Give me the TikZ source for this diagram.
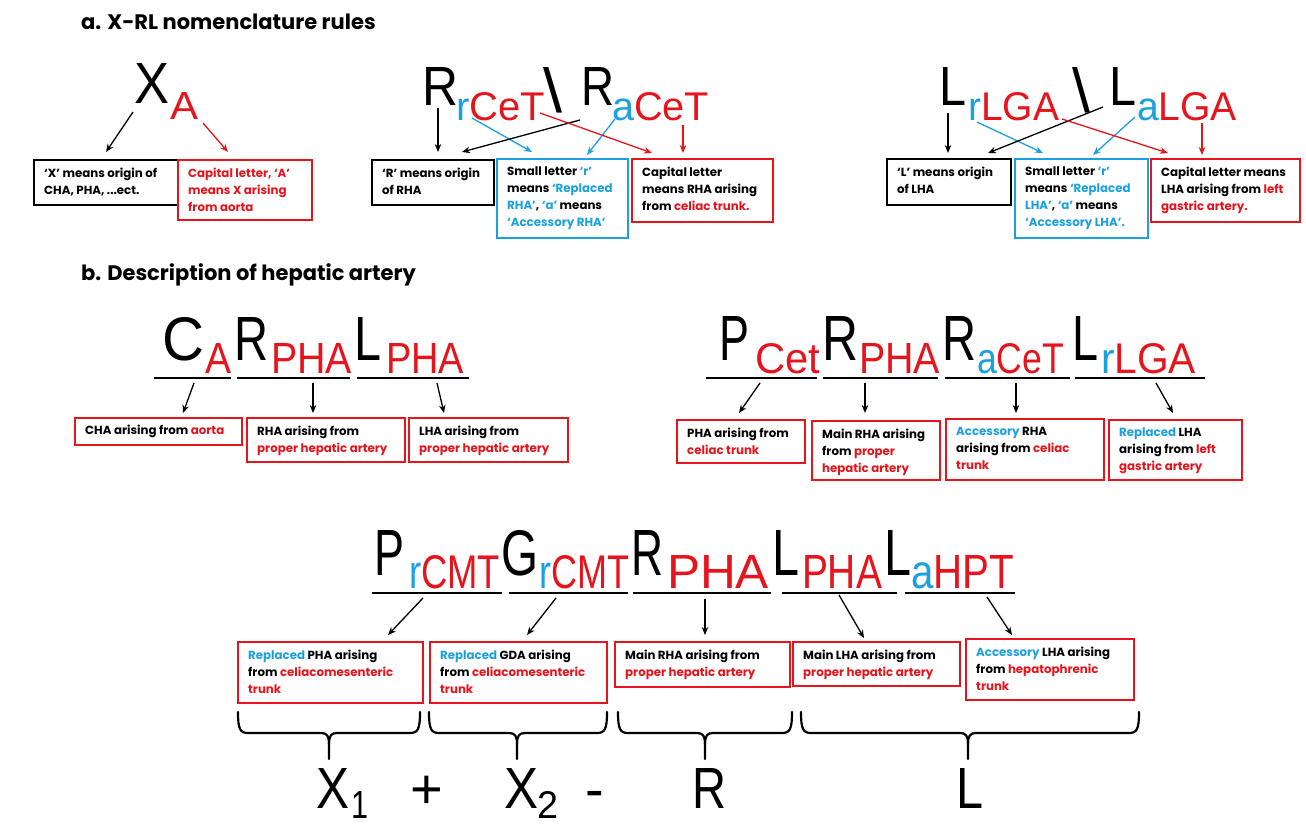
\documentclass[tikz,border=0pt]{standalone}
\usepackage{fontspec}
\usepackage{graphicx}
\setmainfont{Poppins}
\newfontfamily\arialf{Liberation Sans}
\usetikzlibrary{arrows.meta}
\definecolor{myred}{RGB}{230,20,28}
\definecolor{myblue}{RGB}{27,160,225}
\newcommand{\rd}[1]{\textcolor{myred}{#1}}
\newcommand{\bl}[1]{\textcolor{myblue}{#1}}
\newcommand{\gb}[3]{\resizebox{#1pt}{#2pt}{\arialf #3}}
\newcommand{\mybrace}[3]{%
  \draw[brc] (#1,712) .. controls (#1,729) and ({#1+2},733) .. ({#1+10},733) -- ({#2-8},733) .. controls ({#2-2},733) and (#2,736) .. (#2,744) -- (#2,759);
  \draw[brc] (#2,744) .. controls (#2,736) and ({#2+2},733) .. ({#2+8},733) -- ({#3-10},733) .. controls ({#3-2},733) and (#3,729) .. (#3,712);}
\begin{document}
\begin{tikzpicture}[x=1pt,y=-1pt,
  gl/.style={anchor=base west, inner sep=0pt, outer sep=0pt},
  bx/.style={draw=#1, line width=1.8pt, anchor=north west, inner sep=0pt, outer sep=0pt},
  tx/.style={anchor=north west, inner sep=0pt, align=left, font=\bfseries\fontsize{11.8}{17}\selectfont},
  arr/.style={-{Stealth[length=8pt,width=6.5pt]}, line width=1.3pt, color=#1},
  ul/.style={line width=1.5pt},
  brc/.style={line width=2.2pt, line cap=round, line join=round},
  ttl/.style={anchor=base west, inner sep=0pt, font=\bfseries\fontsize{21}{25}\selectfont}]
\useasboundingbox (0,0) rectangle (1306,827);
\fill[white] (0,0) rectangle (1306,827);

% ---------- titles ----------
\node[ttl] (ta) at (81,29) {a. X-RL nomenclature rules};
\node[ttl] (tb) at (81,280) {b. Description of hepatic artery};

% ---------- section a letters ----------
\node[gl] (nX) at (134,103) {\gb{35}{40}{X}};
\node[gl] (nA) at (170,119) {\gb{28}{27}{\color{myred}A}};
\node[gl] (nR1) at (422,105) {\gb{36}{38}{R}};
\node[gl] (nrCeT) at (456,120) {\gb{89}{28}{\color{myblue}r\color{myred}CeT}};
\node[gl] (nBS1) at (543,112) {\gb{19}{45}{\textbackslash}};
\node[gl] (nR2) at (581,105) {\gb{33}{38}{R}};
\node[gl] (naCeT) at (612,120) {\gb{97}{28}{\color{myblue}a\color{myred}CeT}};
\node[gl] (nL1) at (939,105) {\gb{27}{38}{L}};
\node[gl] (nrLGA) at (968,120) {\gb{91}{28}{\color{myblue}r\color{myred}LGA}};
\node[gl] (nBS2) at (1072,112) {\gb{18}{45}{\textbackslash}};
\node[gl] (nL2) at (1109,105) {\gb{27}{38}{L}};
\node[gl] (naLGA) at (1137,120) {\gb{100}{28}{\color{myblue}a\color{myred}LGA}};

% ---------- section a boxes ----------
\node[bx=black, minimum width=144pt, minimum height=45pt] (bXa) at (34,160) {};
\node[bx=myred, minimum width=134pt, minimum height=60pt] (bAa) at (178,160) {};
\node[bx=black, minimum width=122pt, minimum height=45pt] (bRa) at (372,160) {};
\node[bx=myblue, minimum width=131pt, minimum height=79pt] (bRb) at (497,159) {};
\node[bx=myred, minimum width=141pt, minimum height=63pt] (bRc) at (632,159) {};
\node[bx=black, minimum width=124pt, minimum height=46pt] (bLa) at (887,159) {};
\node[bx=myblue, minimum width=133pt, minimum height=79pt] (bLb) at (1015,159) {};
\node[bx=myred, minimum width=149pt, minimum height=63pt] (bLc) at (1151,159) {};

\node[tx] at ([shift={(10,8)}]bXa.north west) {‘X’ means origin of\\CHA, PHA, ...ect.};
\node[tx, text=myred] at ([shift={(10,8)}]bAa.north west) {Capital letter, ‘A’\\means X arising\\from aorta};
\node[tx] at ([shift={(10,8)}]bRa.north west) {‘R’ means origin\\of RHA};
\node[tx] at ([shift={(10,8)}]bRb.north west) {Small letter \bl{‘r’}\\means \bl{‘Replaced}\\\bl{RHA’}, \bl{‘a’} means\\\bl{‘Accessory RHA’}};
\node[tx] at ([shift={(10,8)}]bRc.north west) {Capital letter\\means RHA arising\\from \rd{celiac trunk.}};
\node[tx] at ([shift={(10,8)}]bLa.north west) {‘L’ means origin\\of LHA};
\node[tx] at ([shift={(10,8)}]bLb.north west) {Small letter \bl{‘r’}\\means \bl{‘Replaced}\\\bl{LHA’}, \bl{‘a’} means\\\bl{‘Accessory LHA’.}};
\node[tx] at ([shift={(10,8)}]bLc.north west) {Capital letter means\\LHA arising from \rd{left}\\\rd{gastric artery.}};

% ---------- section a arrows ----------
\coordinate (s1) at (133,112);
\coordinate (s2) at (203,123);
\coordinate (s3) at (438,108);
\coordinate (s4) at (472,118);
\coordinate (s5) at (580,120);
\coordinate (s6) at (615,119);
\coordinate (s7) at (540,113);
\coordinate (s8) at (683,125);
\coordinate (s9) at (948,113);
\coordinate (s10) at (977,122);
\coordinate (s11) at (1103,107);
\coordinate (s12) at (1135,117);
\coordinate (s13) at (1062,119);
\coordinate (s14) at (1202,123);
\draw[arr=black] (s1) -- ([shift={(72,-8)}]bXa.north west);
\draw[arr=myred] (s2) -- ([shift={(50,-8)}]bAa.north west);
\draw[arr=black] (s3) -- ([shift={(66,-8)}]bRa.north west);
\draw[arr=myblue] (s4) -- ([shift={(35,-7)}]bRb.north west);
\draw[arr=black] (s5) -- ([shift={(90,-8)}]bRa.north west);
\draw[arr=myblue] (s6) -- ([shift={(90,-4)}]bRb.north west);
\draw[arr=myred] (s7) -- ([shift={(20,-6)}]bRc.north west);
\draw[arr=myred] (s8) -- ([shift={(51,-6)}]bRc.north west);
\draw[arr=black] (s9) -- ([shift={(61,-6)}]bLa.north west);
\draw[arr=myblue] (s10) -- ([shift={(28,-6)}]bLb.north west);
\draw[arr=black] (s11) -- ([shift={(101,-6)}]bLa.north west);
\draw[arr=myblue] (s12) -- ([shift={(78,-4)}]bLb.north west);
\draw[arr=myred] (s13) -- ([shift={(17,-6)}]bLc.north west);
\draw[arr=myred] (s14) -- ([shift={(51,-4)}]bLc.north west);

% ---------- section b letters ----------
\node[gl] (nC) at (162,360) {\gb{42}{43}{C}};
\node[gl] (nCA) at (205,373) {\gb{26}{30}{\color{myred}A}};
\node[gl] (nRb1) at (234,360) {\gb{34}{43}{R}};
\node[gl] (nPHA1) at (271,373) {\gb{81}{30}{\color{myred}PHA}};
\node[gl] (nLb1) at (354,360) {\gb{27}{43}{L}};
\node[gl] (nPHA2) at (386,373) {\gb{78}{30}{\color{myred}PHA}};

\node[gl] (nP) at (719,360) {\gb{30}{44}{P}};
\node[gl] (nCet) at (755,373) {\gb{65}{30}{\color{myred}Cet}};
\node[gl] (nRb2) at (822,360) {\gb{36}{44}{R}};
\node[gl] (nPHA3) at (859,373) {\gb{81}{30}{\color{myred}PHA}};
\node[gl] (nRb3) at (942,360) {\gb{34}{44}{R}};
\node[gl] (naCeT2) at (977,373) {\gb{87}{30}{\color{myblue}a\color{myred}CeT}};
\node[gl] (nLb2) at (1072,360) {\gb{26}{44}{L}};
\node[gl] (nrLGA2) at (1101,373) {\gb{95}{30}{\color{myblue}r\color{myred}LGA}};

\draw[ul] (154,378) -- (231,378);
\draw[ul] (237,378) -- (350,378);
\draw[ul] (357,378) -- (469,378);
\draw[ul] (706,378) -- (817,378);
\draw[ul] (823,378) -- (938,378);
\draw[ul] (945,378) -- (1070,378);
\draw[ul] (1075,378) -- (1205,378);

% ---------- section b boxes ----------
\node[bx=myred, minimum width=167pt, minimum height=27pt] (bCA) at (75,418) {};
\node[bx=myred, minimum width=158pt, minimum height=44pt] (bRP) at (247,418) {};
\node[bx=myred, minimum width=159pt, minimum height=44pt] (bLP) at (409,418) {};
\node[bx=myred, minimum width=128pt, minimum height=43pt] (bPC) at (677,420) {};
\node[bx=myred, minimum width=128pt, minimum height=59pt] (bRM) at (812,421) {};
\node[bx=myred, minimum width=158pt, minimum height=61pt] (bRA) at (946,419) {};
\node[bx=myred, minimum width=133pt, minimum height=60pt] (bLR) at (1109,420) {};

\node[tx] at ([shift={(10,7)}]bCA.north west) {CHA arising from \rd{aorta}};
\node[tx] at ([shift={(10,8)}]bRP.north west) {RHA arising from\\\rd{proper hepatic artery}};
\node[tx] at ([shift={(10,8)}]bLP.north west) {LHA arising from\\\rd{proper hepatic artery}};
\node[tx] at ([shift={(10,8)}]bPC.north west) {PHA arising from\\\rd{celiac trunk}};
\node[tx] at ([shift={(10,8)}]bRM.north west) {Main RHA arising\\from \rd{proper}\\\rd{hepatic artery}};
\node[tx] at ([shift={(10,8)}]bRA.north west) {\bl{Accessory} RHA\\arising from \rd{celiac}\\\rd{trunk}};
\node[tx] at ([shift={(10,8)}]bLR.north west) {\bl{Replaced} LHA\\arising from \rd{left}\\\rd{gastric artery}};

\coordinate (t1) at (194,383);
\coordinate (t2) at (313,383);
\coordinate (t3) at (437,383);
\coordinate (t4) at (760,383);
\coordinate (t5) at (865,383);
\coordinate (t6) at (1016,383);
\coordinate (t7) at (1156,383);
\draw[arr=black] (t1) -- ([shift={(108,-5)}]bCA.north west);
\draw[arr=black] (t2) -- ([shift={(66,-5)}]bRP.north west);
\draw[arr=black] (t3) -- ([shift={(35,-5)}]bLP.north west);
\draw[arr=black] (t4) -- ([shift={(62,-7)}]bPC.north west);
\draw[arr=black] (t5) -- ([shift={(53,-8)}]bRM.north west);
\draw[arr=black] (t6) -- ([shift={(70,-6)}]bRA.north west);
\draw[arr=black] (t7) -- ([shift={(64,-7)}]bLR.north west);

% ---------- bottom formula ----------
\node[gl] (nPb) at (374,575) {\gb{30}{45}{P}};
\node[gl] (nrCMT1) at (409,588) {\gb{91}{33}{\color{myblue}r\color{myred}CMT}};
\node[gl] (nG) at (501,575) {\gb{37}{45}{G}};
\node[gl] (nrCMT2) at (539,588) {\gb{90}{33}{\color{myblue}r\color{myred}CMT}};
\node[gl] (nRb4) at (631,575) {\gb{32}{45}{R}};
\node[gl] (nPHA4) at (667,588) {\gb{102}{33}{\color{myred}PHA}};
\node[gl] (nLb3) at (772,575) {\gb{27}{45}{L}};
\node[gl] (nPHA5) at (802,588) {\gb{80}{33}{\color{myred}PHA}};
\node[gl] (nLb4) at (884,575) {\gb{27}{45}{L}};
\node[gl] (naHPT) at (911,588) {\gb{103}{33}{\color{myblue}a\color{myred}HPT}};

\draw[ul] (372,593) -- (502,593);
\draw[ul] (509,593) -- (628,593);
\draw[ul] (633,593) -- (771,593);
\draw[ul] (782,593) -- (897,593);
\draw[ul] (905,593) -- (1015,593);

\node[bx=myred, minimum width=185pt, minimum height=61pt] (b1) at (238,642) {};
\node[bx=myred, minimum width=177pt, minimum height=61pt] (b2) at (430,642) {};
\node[bx=myred, minimum width=175pt, minimum height=45pt] (b3) at (615,642) {};
\node[bx=myred, minimum width=167pt, minimum height=44pt] (b4) at (793,642) {};
\node[bx=myred, minimum width=168pt, minimum height=61pt] (b5) at (966,639) {};

\node[tx] at ([shift={(10,8)}]b1.north west) {\bl{Replaced} PHA arising\\from \rd{celiacomesenteric}\\\rd{trunk}};
\node[tx] at ([shift={(10,8)}]b2.north west) {\bl{Replaced} GDA arising\\from \rd{celiacomesenteric}\\\rd{trunk}};
\node[tx] at ([shift={(10,8)}]b3.north west) {Main RHA arising from\\\rd{proper hepatic artery}};
\node[tx] at ([shift={(10,8)}]b4.north west) {Main LHA arising from\\\rd{proper hepatic artery}};
\node[tx] at ([shift={(10,8)}]b5.north west) {\bl{Accessory} LHA arising\\from \rd{hepatophrenic}\\\rd{trunk}};

\coordinate (u1) at (423,598);
\coordinate (u2) at (556,598);
\coordinate (u3) at (705,599);
\coordinate (u4) at (839,595);
\coordinate (u5) at (987,597);
\draw[arr=black] (u1) -- ([shift={(150,-7)}]b1.north west);
\draw[arr=black] (u2) -- ([shift={(97,-7)}]b2.north west);
\draw[arr=black] (u3) -- ([shift={(90,-7)}]b3.north west);
\draw[arr=black] (u4) -- ([shift={(71,-4)}]b4.north west);
\draw[arr=black] (u5) -- ([shift={(46,-4)}]b5.north west);

% ---------- braces ----------
\mybrace{238}{329}{420}
\mybrace{429}{517}{607}
\mybrace{618}{705}{792}
\mybrace{801}{968}{1139}

% ---------- bottom labels ----------
\node[gl] (nX1) at (316,808) {\gb{33}{40}{X}};
\node[gl] (n1) at (351,818) {\gb{17}{27}{1}};
\node[gl, font=\arialf\fontsize{56}{60}\selectfont] (nplus) at (410,808) {+};
\node[gl] (nX2) at (504,808) {\gb{34}{40}{X}};
\node[gl] (n2) at (537,818) {\gb{21}{27}{2}};
\node[gl, font=\arialf\fontsize{56}{60}\selectfont] (nminus) at (585,808) {-};
\node[gl] (nRl) at (692,808) {\gb{34}{40}{R}};
\node[gl] (nLl) at (956,808) {\gb{27}{40}{L}};
\end{tikzpicture}
\end{document}
